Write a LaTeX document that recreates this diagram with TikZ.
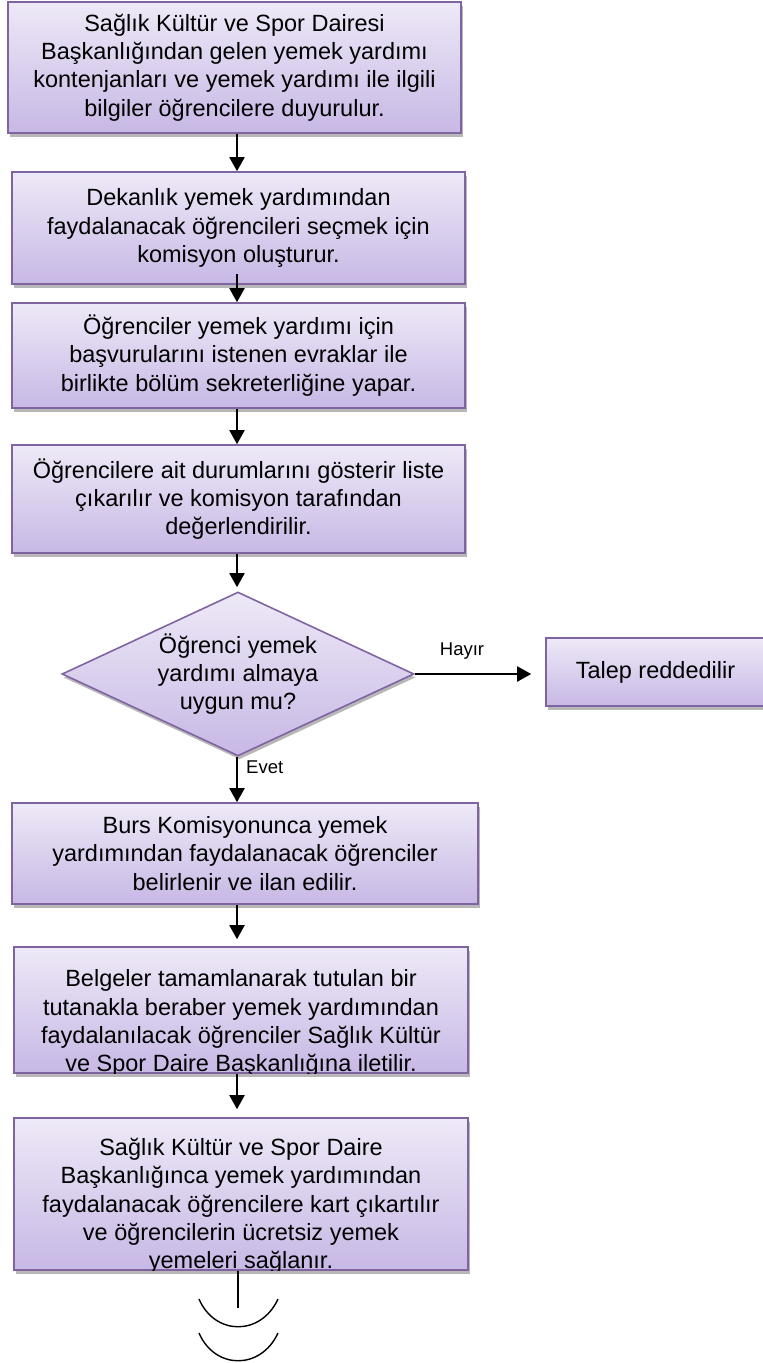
\documentclass[tikz,border=0pt]{standalone}
\usepackage{fontspec}
\setmainfont{Liberation Sans}
\usetikzlibrary{shapes.geometric,arrows.meta,shadows}
\definecolor{boxtop}{RGB}{238,233,247}
\definecolor{boxbot}{RGB}{199,184,229}
\definecolor{boxline}{RGB}{128,100,162}
\tikzset{
  boxshadow/.style={drop shadow={shadow xshift=1.5pt, shadow yshift=-3.5pt, opacity=0.4, fill=black!70}},
  flowbox/.style={rectangle, draw=boxline, line width=1.6pt, top color=boxtop, bottom color=boxbot,
    align=center, font=\fontsize{23.5}{28.3}\selectfont, inner sep=0pt, boxshadow},
  decision/.style={diamond, aspect=2.15, draw=boxline, line width=1.6pt, top color=boxtop, bottom color=boxbot,
    align=center, font=\fontsize{23.5}{28.3}\selectfont, inner sep=0pt, boxshadow},
  boxtext/.style={align=center, font=\fontsize{23.5}{28.3}\selectfont, inner sep=0pt},
  flowarrow/.style={-{Triangle[width=15pt,length=14pt]}, line width=2pt, black},
  edgelabel/.style={font=\fontsize{18.5}{21}\selectfont, inner sep=0pt},
  endline/.style={line width=1.4pt, black}
}
\begin{document}
\begin{tikzpicture}[x=1pt,y=-1pt]
\useasboundingbox (0,0) rectangle (763,1363);
\coordinate (ax) at (237,0);

\node[flowbox, minimum width=453pt, minimum height=131pt] (b1) at (234.5,67.5)
  {Sağlık Kültür ve Spor Dairesi\\Başkanlığından gelen yemek yardımı\\kontenjanları ve yemek yardımı ile ilgili\\bilgiler öğrencilere duyurulur.};
\node[flowbox, minimum width=453pt, minimum height=112pt] (b2) at (238.5,228)
  {Dekanlık yemek yardımından\\faydalanacak öğrencileri seçmek için\\komisyon oluşturur.};
\node[flowbox, minimum width=453pt, minimum height=105pt] (b3) at (238.5,355.5)
  {Öğrenciler yemek yardımı için\\başvurularını istenen evraklar ile\\birlikte bölüm sekreterliğine yapar.};
\node[flowbox, minimum width=453pt, minimum height=108pt] (b4) at (238.5,499)
  {Öğrencilere ait durumlarını gösterir liste\\çıkarılır ve komisyon tarafından\\değerlendirilir.};
\node[decision, minimum width=352pt, minimum height=164pt] (d) at (238,674)
  {Öğrenci yemek\\yardımı almaya\\uygun mu?};
\node[flowbox, minimum width=219pt, minimum height=68pt] (t) at (655.5,672)
  {Talep reddedilir};
\node[flowbox, minimum width=466pt, minimum height=101pt] (b5) at (245,853.5)
  {Burs Komisyonunca yemek\\yardımından faydalanacak öğrenciler\\belirlenir ve ilan edilir.};
\node[flowbox, minimum width=454pt, minimum height=126pt] (b6) at (241,1010) {};
\begin{scope}
  \clip ([yshift=0.8pt]b6.south west) rectangle (b6.north east);
  \node[boxtext, anchor=south] (b6t) at ([yshift=-3pt]b6.south)
    {Belgeler tamamlanarak tutulan bir\\tutanakla beraber yemek yardımından\\faydalanılacak öğrenciler Sağlık Kültür\\ve Spor Daire Başkanlığına iletilir.};
\end{scope}
\node[flowbox, minimum width=454pt, minimum height=152pt] (b7) at (241,1194) {};
\begin{scope}
  \clip ([yshift=0.8pt]b7.south west) rectangle (b7.north east);
  \node[boxtext, anchor=south] (b7t) at ([yshift=-3pt]b7.south)
    {Sağlık Kültür ve Spor Daire\\Başkanlığınca yemek yardımından\\faydalanacak öğrencilere kart çıkartılır\\ve öğrencilerin ücretsiz yemek\\yemeleri sağlanır.};
\end{scope}

\coordinate (a2s) at ([yshift=11pt]b2.south);
\draw[flowarrow] (b1.south -| ax) -- (b2.north -| ax);
\draw[flowarrow] (a2s -| ax) -- (b3.north -| ax);
\draw[flowarrow] (b3.south -| ax) -- (b4.north -| ax);
\draw[flowarrow, shorten >=4pt] (b4.south -| ax) -- (d.north -| ax);
\draw[flowarrow] (d.south -| ax) -- (b5.north -| ax);
\draw[flowarrow, shorten >=7pt] (b5.south -| ax) -- (b6.north -| ax);
\draw[flowarrow, shorten >=8pt] (b6.south -| ax) -- (b7.north -| ax);
\draw[flowarrow, shorten >=14pt] (d.east) -- (d.east -| t.west);

\node[edgelabel] (hayir) at (462,651) {Hayır};
\node[edgelabel, anchor=west] (evet) at (246,767) {Evet};

\coordinate (endc) at (238,1308);
\draw[endline] (b7.south -| endc) -- (endc);
\draw[endline] (199,1299) .. controls (215,1336) and (261,1336) .. (278,1299);
\draw[endline] (199,1333) .. controls (215,1370) and (261,1370) .. (278,1333);
\end{tikzpicture}
\end{document}
